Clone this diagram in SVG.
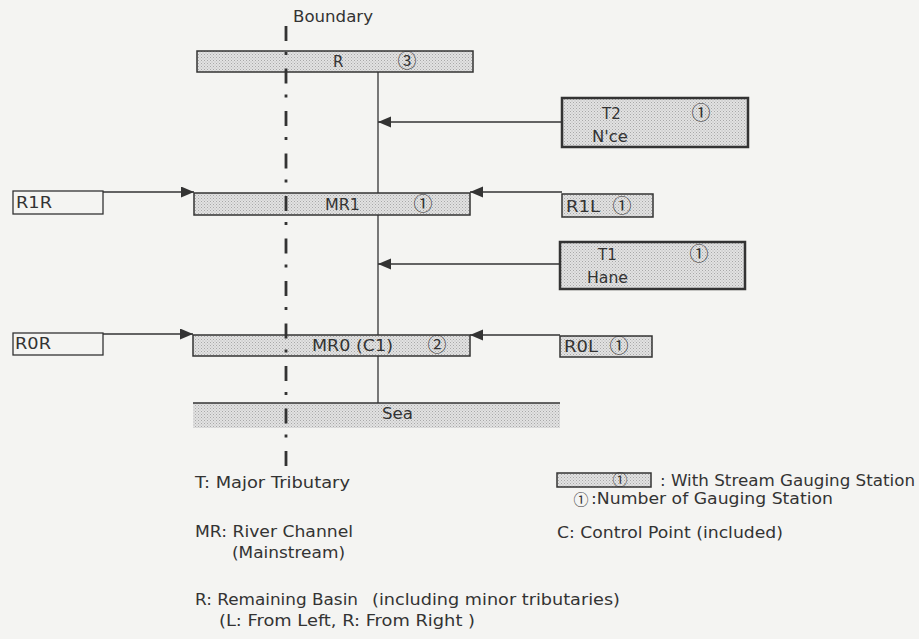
<svg xmlns="http://www.w3.org/2000/svg" width="919" height="639" viewBox="0 0 919 639">
<defs>
<pattern id="dots" width="3" height="3" patternUnits="userSpaceOnUse">
<rect width="3" height="3" fill="#e2e2e2"/>
<rect width="1" height="1" fill="#a8a8a8"/>
<rect x="1.5" y="1.5" width="1" height="1" fill="#b4b4b4"/>
</pattern>
<marker id="ah" markerUnits="userSpaceOnUse" markerWidth="14" markerHeight="12" refX="13" refY="5.5" orient="auto">
<path d="M0,0 L13,5.5 L0,11 Z" fill="#333"/>
</marker>
</defs>
<style>
text{font-family:"DejaVu Sans","Noto Sans CJK JP",sans-serif;font-size:15px;fill:#333}
.num{font-family:"Noto Sans CJK JP","DejaVu Sans",sans-serif;font-size:19px;text-anchor:middle}
.sm{font-size:15px}
.sh{fill:url(#dots);stroke:#333;stroke-width:1.5}
.tb{fill:url(#dots);stroke:#333;stroke-width:2.5}
.wb{fill:none;stroke:#333;stroke-width:1.3}
.ln{fill:none;stroke:#333;stroke-width:1.3}
.ar{fill:none;stroke:#333;stroke-width:1.3;marker-end:url(#ah)}
</style>
<rect width="919" height="639" fill="#f4f4f2"/>

<g id="connectors">
<line class="ln" x1="378" y1="72" x2="378" y2="193"/>
<line class="ln" x1="378" y1="215" x2="378" y2="335"/>
<line class="ln" x1="378" y1="356" x2="378" y2="403"/>
<line class="ar" x1="562" y1="122" x2="378" y2="122"/>
<line class="ar" x1="560" y1="264" x2="378" y2="264"/>
<line class="ar" x1="103" y1="192" x2="194" y2="192"/>
<line class="ar" x1="562" y1="192" x2="470" y2="192"/>
<line class="ar" x1="103" y1="334" x2="193" y2="334"/>
<line class="ar" x1="560" y1="335" x2="470" y2="335"/>
</g>

<g id="R">
<rect class="sh" x="197" y="51" width="276" height="21"/>
<text x="333" y="67">R</text>
<text class="num" x="407" y="68">③</text>
</g>

<g id="T2">
<rect class="tb" x="562" y="98" width="186" height="49"/>
<text x="602" y="119">T2</text>
<text class="num" x="701" y="120">①</text>
<text x="592" y="142" textLength="36" lengthAdjust="spacingAndGlyphs">N'ce</text>
</g>

<g id="R1R">
<rect class="wb" x="13" y="191" width="90" height="23"/>
<text x="16" y="208" textLength="36" lengthAdjust="spacingAndGlyphs">R1R</text>
</g>

<g id="MR1">
<rect class="sh" x="194" y="193" width="276" height="22"/>
<text x="325" y="210" textLength="35" lengthAdjust="spacingAndGlyphs">MR1</text>
<text class="num" x="423" y="211">①</text>
</g>

<g id="R1L">
<rect class="sh" x="562" y="194" width="91" height="23"/>
<text x="566" y="212" textLength="34" lengthAdjust="spacingAndGlyphs">R1L</text>
<text class="num" x="622" y="213">①</text>
</g>

<g id="T1">
<rect class="tb" x="560" y="242" width="185" height="47"/>
<text x="598" y="260">T1</text>
<text class="num" x="699" y="261">①</text>
<text x="587" y="283" textLength="41" lengthAdjust="spacingAndGlyphs">Hane</text>
</g>

<g id="R0R">
<rect class="wb" x="13" y="333" width="90" height="22"/>
<text x="15" y="349" textLength="36" lengthAdjust="spacingAndGlyphs">R0R</text>
</g>

<g id="MR0">
<rect class="sh" x="193" y="335" width="277" height="21"/>
<text x="312" y="351" textLength="81" lengthAdjust="spacingAndGlyphs">MR0 (C1)</text>
<text class="num" x="437" y="352">②</text>
</g>

<g id="R0L">
<rect class="sh" x="560" y="336" width="92" height="21"/>
<text x="564" y="352" textLength="34" lengthAdjust="spacingAndGlyphs">R0L</text>
<text class="num" x="619" y="353">①</text>
</g>

<g id="Sea">
<rect x="193" y="403" width="367" height="25" fill="url(#dots)"/>
<line class="ln" x1="193" y1="403" x2="560" y2="403" stroke-width="1.6"/>
<text x="382" y="419" textLength="31" lengthAdjust="spacingAndGlyphs">Sea</text>
</g>

<g id="boundary">
<line x1="286" y1="26" x2="286" y2="466" stroke="#333" stroke-width="2.8" stroke-dasharray="15 11 3 13.5" fill="none"/>
<text x="293" y="22" textLength="80" lengthAdjust="spacingAndGlyphs">Boundary</text>
</g>

<g id="legend">
<text x="195" y="488" textLength="155" lengthAdjust="spacingAndGlyphs">T: Major Tributary</text>
<text x="195" y="537" textLength="158" lengthAdjust="spacingAndGlyphs">MR: River Channel</text>
<text x="232" y="558" textLength="113" lengthAdjust="spacingAndGlyphs">(Mainstream)</text>
<text x="195" y="605" textLength="163" lengthAdjust="spacingAndGlyphs">R: Remaining Basin</text>
<text x="372" y="605" textLength="248" lengthAdjust="spacingAndGlyphs">(including minor tributaries)</text>
<text x="219" y="626" textLength="256" lengthAdjust="spacingAndGlyphs">(L: From Left, R: From Right )</text>
<rect class="sh" x="557" y="473" width="94" height="14"/>
<text class="num sm" x="620" y="485">①</text>
<text x="660" y="486" textLength="255" lengthAdjust="spacingAndGlyphs">: With Stream Gauging Station</text>
<text class="num sm" x="581" y="505">①</text>
<text x="591" y="504" textLength="242" lengthAdjust="spacingAndGlyphs">:Number of Gauging Station</text>
<text x="557" y="538" textLength="226" lengthAdjust="spacingAndGlyphs">C: Control Point (included)</text>
</g>
</svg>
